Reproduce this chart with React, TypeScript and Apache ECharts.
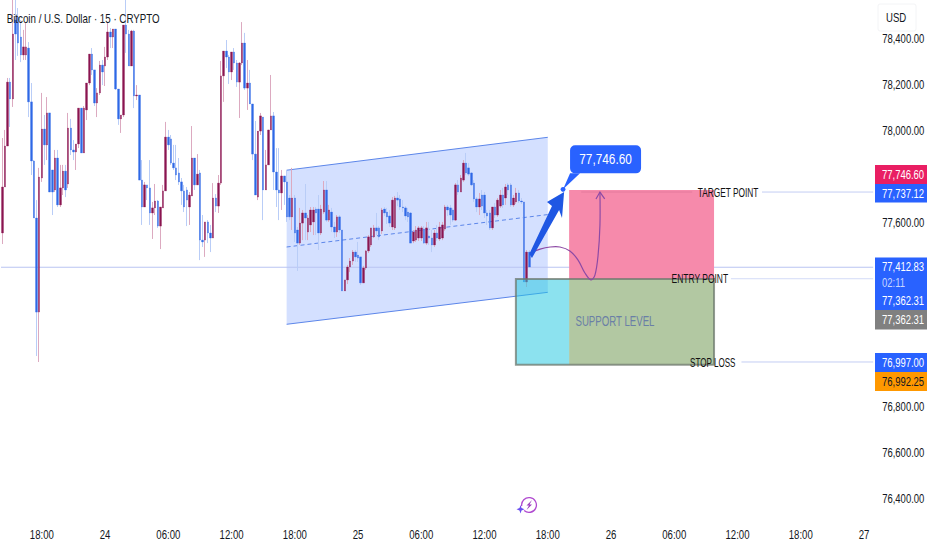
import React, { useEffect, useRef } from "react";
import * as echarts from "echarts";

const titleText = "Bitcoin / U.S. Dollar · 15 · CRYPTO";
const tickLabels = ["18:00","24","06:00","12:00","18:00","25","06:00","12:00","18:00","26","06:00","12:00","18:00","27"];
const firstTickBar = 15;
const barsPerTick = 24;
const barCount = 331;
const yTicks = [76400, 76600, 76800, 77600, 78000, 78200, 78400];

const opens = [77557,77757,77935,78213,78140,78483,78496,78409,78331,78331,78361,78127,77870,77622,77213,77796,78009,77940,78079,77831,77744,77883,77679,77753,77826,77770,78013,77918,77909,77944,78100,77905,78092,78209,78335,78266,78122,78166,78287,78283,78322,78431,78409,78444,78183,78053,78070,78461,78422,78283,78435,78153,78157,77787,77670,77766,77753,77644,77666,77696,77587,77666,77740,77974,77966,77861,77840,77818,77779,77740,77744,77670,77718,77883,77766,77818,77526,77526,77605,77557,77535,77709,77674,77774,78240,78348,78322,78257,78344,78296,78213,78296,78383,78187,78209,78118,77900,77713,78000,78061,77744,77853,78005,78066,77822,77744,77731,77805,77779,77709,77627,77709,77570,77513,77600,77644,77561,77592,77605,77661,77661,77557,77648,77744,77613,77648,77583,77561,77627,77570,77305,77353,77409,77435,77474,77461,77453,77340,77405,77479,77505,77540,77579,77579,77566,77661,77648,77631,77583,77579,77709,77705,77670,77666,77648,77644,77522,77526,77535,77535,77574,77513,77544,77535,77505,77557,77531,77535,77574,77670,77666,77657,77613,77766,77735,77787,77861,77840,77818,77774,77705,77670,77722,77722,77644,77644,77579,77670,77635,77674,77722,77709,77766,77766,77679,77692,77731,77696,77692,77344,77474];
const closes = [77757,77935,78213,78140,78422,78422,78383,78331,78366,78366,78127,77870,77622,77213,77800,78009,77940,78079,77735,77735,77883,77679,77753,77826,77744,78013,77918,77909,77944,78100,77905,78100,78209,78335,78266,78122,78166,78287,78257,78322,78431,78409,78444,78183,78053,78070,78461,78422,78283,78435,78153,78157,77787,77670,77766,77753,77644,77666,77696,77587,77670,77740,77974,77940,77861,77840,77809,77779,77740,77670,77700,77722,77883,77766,77813,77526,77518,77605,77557,77535,77709,77674,77774,78240,78348,78322,78257,78344,78296,78213,78296,78383,78187,78209,78118,77900,77722,78000,78066,77744,77853,78005,78066,77822,77744,77731,77805,77779,77627,77627,77709,77557,77513,77600,77644,77622,77622,77657,77657,77644,77557,77661,77744,77613,77657,77583,77561,77627,77570,77305,77353,77409,77435,77474,77453,77448,77340,77405,77479,77540,77579,77579,77566,77540,77657,77644,77627,77600,77700,77709,77700,77670,77666,77631,77627,77513,77561,77570,77579,77579,77513,77579,77535,77505,77557,77535,77583,77592,77670,77657,77635,77613,77766,77735,77796,77861,77818,77813,77766,77705,77670,77705,77674,77644,77631,77579,77670,77635,77700,77722,77679,77757,77744,77679,77709,77731,77696,77692,77344,77474,77409];
const lows = [77509,77757,77935,78018,78105,78309,78327,78300,78309,78309,78061,77809,77622,77022,76996,77779,77853,77874,77735,77635,77735,77670,77670,77722,77713,77753,77896,77874,77831,77926,77905,77905,78048,78200,78244,78109,78061,78157,78200,78196,78309,78361,78361,78179,78027,77992,78061,78340,78283,78283,78100,78135,77787,77592,77670,77700,77592,77531,77635,77579,77487,77666,77740,77918,77853,77831,77787,77766,77679,77648,77587,77592,77718,77744,77766,77439,77496,77453,77513,77474,77535,77648,77644,77766,78127,78274,78205,78222,78266,78192,78057,78287,78179,78092,78118,77874,77722,77700,77983,77613,77744,77853,78005,77744,77670,77613,77657,77679,77605,77613,77570,77518,77392,77505,77526,77526,77526,77561,77548,77548,77483,77548,77640,77605,77605,77561,77535,77540,77557,77305,77305,77335,77387,77418,77431,77431,77331,77340,77396,77470,77496,77535,77548,77526,77553,77631,77596,77583,77570,77570,77674,77657,77648,77613,77605,77513,77513,77518,77522,77522,77509,77505,77505,77474,77496,77522,77522,77526,77566,77631,77592,77605,77609,77722,77735,77779,77809,77805,77761,77692,77648,77635,77657,77622,77592,77570,77570,77622,77627,77666,77666,77679,77722,77670,77670,77683,77687,77683,77344,77322,77409];
const highs = [77970,78005,78231,78231,78570,78570,78535,78483,78440,78470,78387,78209,77874,77700,77840,78166,78070,78148,78079,77831,77918,77918,77853,77853,77853,78079,78053,77961,77944,78100,78100,78109,78209,78335,78361,78266,78187,78305,78309,78366,78470,78448,78444,78444,78183,78070,78461,78570,78440,78440,78440,78200,78157,77874,77779,77766,77874,77692,77770,77700,77670,77766,78040,78005,77983,77940,77940,77883,77796,77766,77757,77735,78022,77883,77900,77831,77635,77605,77613,77592,77774,77726,77809,78305,78348,78396,78331,78344,78361,78309,78300,78474,78427,78309,78266,78118,78044,78000,78079,78061,77918,78005,78244,78083,77926,77926,77831,77805,77831,77722,77840,77722,77583,77666,77657,77770,77635,77670,77670,77670,77722,77679,77783,77783,77679,77666,77605,77635,77635,77570,77353,77418,77448,77483,77483,77518,77453,77414,77483,77548,77579,77592,77644,77587,77666,77670,77666,77657,77713,77718,77735,77722,77700,77674,77666,77648,77570,77587,77587,77587,77587,77605,77605,77570,77570,77592,77605,77605,77679,77679,77679,77666,77774,77787,77809,77874,77905,77861,77822,77787,77713,77731,77744,77735,77657,77657,77670,77687,77709,77744,77753,77770,77774,77774,77722,77753,77744,77709,77692,77483,77483];

// Annotations: bar position (fractional bar number) and price.
const channelBars = [107.9, 207.0];
const channelUpper = [77830, 77973];
const channelLower = [77160, 77299];
const channelMiddle = [77496, 77637];
const lastPriceLine = 77408;
const targetLine = 77735;
const entryLine = 77358;
const stopLine = 76996;
const targetLineBars = [[219.7, 261.8], [288.3, 330.5]];
const entryLineBars = [[276.5, 330.5]];
const stopLineBars = [[280.5, 330.5]];
const zoneBars = [194.9, 215.1, 270.1];
const zonePrices = [77744, 77357, 76984];
const arrowBars = [200.0, 208.6, 206.7, 213.2, 212.4, 211.3, 201.0];
const arrowPrices = [77466, 77674, 77692, 77735, 77622, 77657, 77448];
const curveBars = [200.3, 204.1, 207.9, 211.6, 215.4, 218.5, 221.1, 223.4, 224.9, 226.1, 226.8];
const curvePrices = [77470, 77487, 77496, 77496, 77479, 77439, 77383, 77353, 77374, 77461, 77592];
const curveTip = [226.8, 77735];
const curveBarbs = [[225.3, 77705], [228.6, 77705]];
const calloutBar = 212.8;
const calloutPrice = 77746.6;
const calloutLabel = "77,746.60";
const zoneLabels = [
  { text: "TARGET POINT", bar: 263.9, price: 77735, color: "#111111", size: 13, squeeze: 0.64 },
  { text: "ENTRY POINT", bar: 254.0, price: 77358, color: "#111111", size: 13, squeeze: 0.65 },
  { text: "STOP LOSS", bar: 261.0, price: 76996, color: "#111111", size: 13, squeeze: 0.62 },
  { text: "SUPPORT LEVEL", bar: 217.5, price: 77172, color: "#6a7fa6", size: 14, squeeze: 0.69 },
];
const priceTags = [
  { text: "77,746.60", y0: 165, y1: 184, bg: "#e91e63", fg: "#ffffff" },
  { text: "77,737.12", y0: 184, y1: 202.5, bg: "#2962ff", fg: "#ffffff" },
  { text: "77,412.83", y0: 257.5, y1: 275, bg: "#2962ff", fg: "#ffffff" },
  { text: "02:11", y0: 275, y1: 291, bg: "#2962ff", fg: "#c7d6ff" },
  { text: "77,362.31", y0: 291, y1: 310, bg: "#2962ff", fg: "#ffffff" },
  { text: "77,362.31", y0: 310, y1: 329.5, bg: "#808080", fg: "#ffffff" },
  { text: "76,997.00", y0: 353, y1: 372, bg: "#2962ff", fg: "#ffffff" },
  { text: "76,992.25", y0: 372, y1: 391, bg: "#ff9800", fg: "#131722" },
];

const FONT = '"Liberation Sans", Arial, sans-serif';
const categories = Array.from({ length: barCount }, (_, i) => String(i));

const narrow = (x: number, y: number, text: string, size: number, fill: string, squeeze: number, align = "left") => ({
  type: "text",
  x,
  y,
  scaleX: squeeze,
  style: { x: 0, y: 0, text, fill, font: `${size}px ${FONT}`, align, verticalAlign: "middle" },
});

const overlay = (z: number, build: (api: any, params: any) => any[]) => ({
  type: "custom",
  xAxisIndex: 1,
  yAxisIndex: 0,
  z,
  silent: true,
  data: [[100, 77500]],
  renderItem: (params: any, api: any) => ({ type: "group", children: build(api, params) }),
});

const seg = (api: any, a: number[], b: number[], style: any) => {
  const p = api.coord(a);
  const q = api.coord(b);
  return { type: "line", shape: { x1: p[0], y1: p[1], x2: q[0], y2: q[1] }, style };
};
const box = (api: any, x0: number, x1: number, p0: number, p1: number, style: any) => {
  const a = api.coord([x0, p0]);
  const b = api.coord([x1, p1]);
  return { type: "rect", shape: { x: a[0], y: a[1], width: b[0] - a[0], height: b[1] - a[1] }, style };
};

export default function App() {
  const ref = useRef<HTMLDivElement>(null);
  useEffect(() => {
    const chart = echarts.init(ref.current!, undefined, { renderer: "svg" });
    const option: any = {
      animation: false,
      backgroundColor: "#ffffff",
      grid: { left: 1, top: 0, width: 872.2, height: 520, outerBoundsMode: "none" },
      xAxis: [
        {
          type: "category",
          data: categories,
          boundaryGap: true,
          axisLine: { show: false },
          axisTick: { show: false },
          splitLine: { show: false },
          axisLabel: { show: false },
        },
        { type: "value", show: false, min: -0.5, max: barCount - 0.5, splitLine: { show: false } },
      ],
      yAxis: {
        type: "value",
        position: "right",
        min: 76309,
        max: 78570,
        axisLine: { show: false },
        axisTick: { show: false },
        splitLine: { show: false },
        axisLabel: { show: false },
      },
      series: [
        overlay(1, (api) => {
          const pts = (lo: number[], hi: number[]) => [
            api.coord([channelBars[0], hi[0]]),
            api.coord([channelBars[1], hi[1]]),
            api.coord([channelBars[1], lo[1]]),
            api.coord([channelBars[0], lo[0]]),
          ];
          const lineStyle = { stroke: "#5c86ea", lineWidth: 1, fill: null };
          return [
            { type: "polygon", shape: { points: pts(channelLower, channelUpper) }, style: { fill: "rgba(41,98,255,0.2)" } },
            seg(api, [channelBars[0], channelUpper[0]], [channelBars[1], channelUpper[1]], lineStyle),
            seg(api, [channelBars[0], channelLower[0]], [channelBars[1], channelLower[1]], lineStyle),
            seg(api, [channelBars[0], channelMiddle[0]], [channelBars[1], channelMiddle[1]], { ...lineStyle, lineDash: [4, 3] }),
            seg(api, [-0.5, lastPriceLine], [barCount - 0.5, lastPriceLine], { stroke: "#b9c4f2", lineWidth: 1 }),
          ];
        }),
        {
          type: "candlestick",
          z: 2,
          barWidth: 1,
          silent: true,
          itemStyle: { color: "#dcaac0", color0: "#b9cdf7", borderColor: "#dcaac0", borderColor0: "#b9cdf7", borderWidth: 1 },
          data: opens.map((o, i) => [o, closes[i], lows[i], highs[i]]),
        },
        {
          type: "candlestick",
          z: 3,
          barWidth: 2,
          silent: true,
          itemStyle: { color: "#8a1550", color0: "#2e68e6", borderColor: "#8a1550", borderColor0: "#2e68e6", borderWidth: 0.3 },
          data: opens.map((o, i) => [o, closes[i], Math.min(o, closes[i]), Math.max(o, closes[i])]),
        },
        overlay(4, (api) => {
          const [bLeft, bMid, bRight] = zoneBars;
          const [pTop, pMid, pBottom] = zonePrices;
          return [
            box(api, bMid, bRight, pTop, pMid, { fill: "#f68aab" }),
            box(api, bMid, bRight, pMid, pBottom, { fill: "#b2c8a2" }),
            box(api, bLeft, bMid, pMid, pBottom, { fill: "rgba(35,200,225,0.52)" }),
            box(api, bLeft, bRight, pMid, pBottom, { fill: null, stroke: "rgba(110,120,110,0.75)", lineWidth: 2 }),
            ...targetLineBars.map((r, i) =>
              seg(api, [r[0], targetLine], [r[1], targetLine], { stroke: i === 0 ? "#e47a9c" : "#c3cdf3", lineWidth: 1 })
            ),
            ...entryLineBars.map((r) => seg(api, [r[0], entryLine], [r[1], entryLine], { stroke: "#d3dbf7", lineWidth: 1 })),
            ...stopLineBars.map((r) => seg(api, [r[0], stopLine], [r[1], stopLine], { stroke: "#c3cdf3", lineWidth: 1 })),
            ...zoneLabels.map((l) => {
              const p = api.coord([l.bar, l.price]);
              return narrow(p[0], p[1], l.text, l.size, l.color, l.squeeze);
            }),
          ];
        }),
        overlay(5, (api) => {
          const curve = curveBars.map((b, i) => api.coord([b, curvePrices[i]]));
          const tip = api.coord(curveTip);
          const barbA = api.coord(curveBarbs[0]);
          const barbB = api.coord(curveBarbs[1]);
          const style = { stroke: "#8d4aa5", lineWidth: 1.2, fill: null };
          return [
            { type: "polyline", shape: { points: [...curve, tip], smooth: 0.35 }, style },
            { type: "polyline", shape: { points: [barbA, tip, barbB] }, style },
          ];
        }),
        overlay(6, (api) => {
          const arrow = arrowBars.map((b, i) => api.coord([b, arrowPrices[i]]));
          const c = api.coord([calloutBar, calloutPrice]);
          return [
            { type: "polygon", shape: { points: arrow }, style: { fill: "#1f57e3" } },
            { type: "circle", shape: { cx: c[0], cy: c[1], r: 2.4 }, style: { fill: "#2962ff" } },
            {
              type: "polygon",
              shape: { points: [c, [c[0] + 7, c[1] - 16], [c[0] + 17, c[1] - 16]] },
              style: { fill: "#2962ff" },
            },
            {
              type: "rect",
              shape: { x: c[0] + 7, y: c[1] - 44, width: 71, height: 28, r: 5 },
              style: { fill: "#2962ff" },
            },
            narrow(c[0] + 42.5, c[1] - 30, calloutLabel, 15, "#ffffff", 0.79, "center"),
          ];
        }),
        overlay(7, (api) => {
          const right = api.coord([barCount - 0.5, 77000])[0];
          const bottom = api.coord([0, 76309])[1];
          return [
            ...yTicks.map((v) =>
              narrow(
                right + 9,
                api.coord([0, v])[1] - 1,
                v.toLocaleString("en-US", { minimumFractionDigits: 2, maximumFractionDigits: 2 }),
                12,
                "#131722",
                0.79
              )
            ),
            ...tickLabels.map((label, k) =>
              narrow(api.coord([firstTickBar + k * barsPerTick, 77000])[0], bottom + 15, label, 12, "#131722", 0.8, "center")
            ),
          ];
        }),
      ],
      graphic: [
        { type: "text", z: 30, x: 6.7, y: 18, scaleX: 0.75, style: { x: 0, y: 0, text: titleText, fill: "#131722", font: `13px ${FONT}`, align: "left", verticalAlign: "middle" } },
        { type: "rect", z: 20, shape: { x: 878, y: 4, width: 38, height: 27, r: 2 }, style: { fill: "#ffffff", stroke: "#f3f4f6", lineWidth: 1 } },
        { type: "text", z: 21, x: 886, y: 18, scaleX: 0.8, style: { x: 0, y: 0, text: "USD", fill: "#131722", font: `12px ${FONT}`, align: "left", verticalAlign: "middle" } },
        ...priceTags.map((t) => ({
          type: "rect",
          z: 20,
          shape: { x: 875, y: t.y0, width: 52, height: t.y1 - t.y0 },
          style: { fill: t.bg },
        })),
        ...priceTags.map((t) => ({
          type: "text",
          z: 21,
          x: 882,
          y: (t.y0 + t.y1) / 2,
          scaleX: 0.79,
          style: { x: 0, y: 0, text: t.text, fill: t.fg, font: `12px ${FONT}`, align: "left", verticalAlign: "middle" },
        })),
        { type: "arc", z: 20, shape: { cx: 529, cy: 505, r: 7.4, startAngle: 3.0, endAngle: 8.58, clockwise: true }, style: { stroke: "#b04ad0", lineWidth: 1.3, fill: null } },
        { type: "polygon", z: 21, shape: { points: [[532, 500], [526.5, 505.5], [529, 505.5], [526.5, 510], [532, 504.5], [529.5, 504.5]] }, style: { fill: "#9a3cbf" } },
        { type: "polygon", z: 22, shape: { points: [[520.5, 505], [521.5, 508], [524.5, 509.2], [521.5, 510.4], [520.5, 513.5], [519.5, 510.4], [516.5, 509.2], [519.5, 508]] }, style: { fill: "#6a4ff0" } },
      ],
    };
    chart.setOption(option);
    return () => chart.dispose();
  }, []);
  return <div ref={ref} style={{ position: "fixed", left: 0, top: 0, width: 932, height: 550 }} />;
}
